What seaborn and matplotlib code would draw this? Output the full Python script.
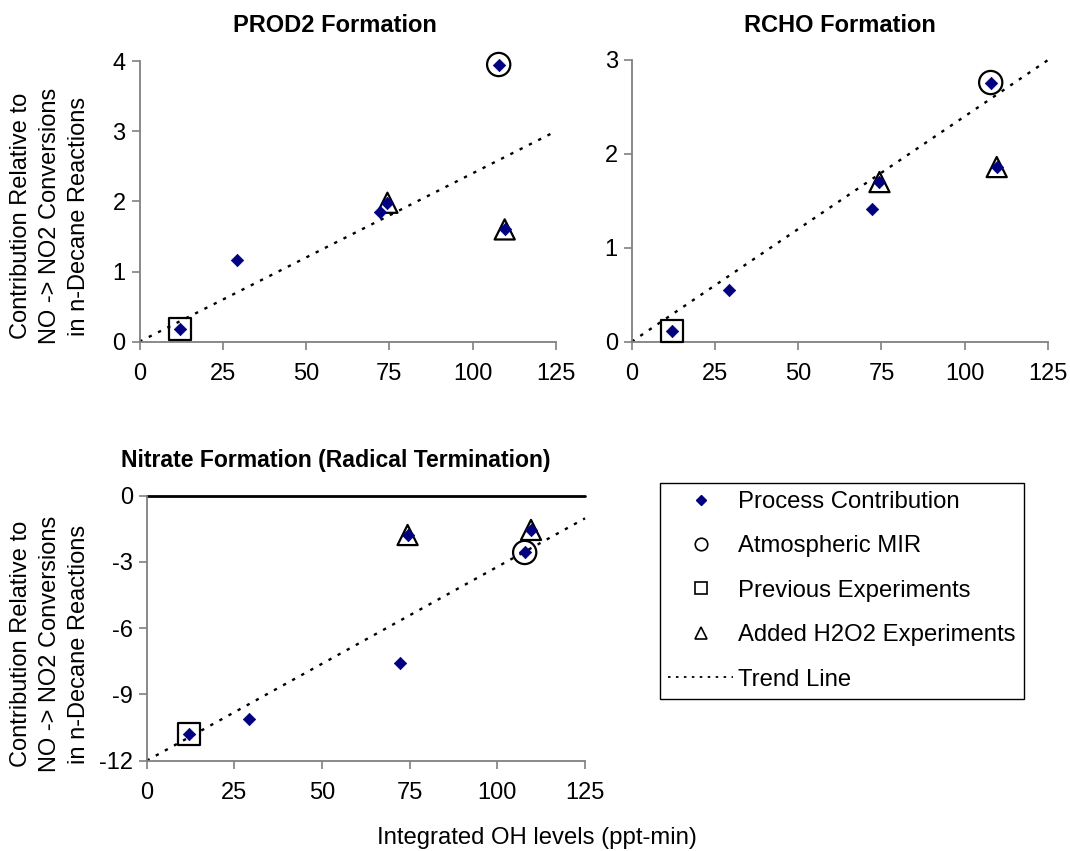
import numpy as np
import pandas as pd
import matplotlib
matplotlib.use("Agg")
import matplotlib.pyplot as plt
from matplotlib.lines import Line2D
import seaborn as sns

# ---------------- data ----------------
oh_levels = [12.1, 29.2, 72.2, 74.4, 107.8, 109.6]
experiment_type = ["Previous", "None", "None", "H2O2", "MIR", "H2O2"]
prod2_values = [0.18, 1.17, 1.85, 1.98, 3.95, 1.60]
rcho_values = [0.11, 0.55, 1.41, 1.70, 2.76, 1.86]
nitrate_values = [-10.79, -10.13, -7.56, -1.78, -2.57, -1.55]

panel_titles = ["PROD2 Formation", "RCHO Formation",
                "Nitrate Formation (Radical Termination)"]
trend_slopes = [0.024, 0.024, 0.0878]
trend_intercepts = [0.0, 0.0, -12.0]
x_ticks = [0, 25, 50, 75, 100, 125]
y_ticks = [[0, 1, 2, 3, 4], [0, 1, 2, 3], [-12, -9, -6, -3, 0]]
trend_x = [0, 125]

legend_labels = ["Process Contribution", "Atmospheric MIR", "Previous Experiments",
                 "Added H2O2 Experiments", "Trend Line"]
ylabel_text = "Contribution Relative to\nNO -> NO2 Conversions\nin n-Decane Reactions"
xlabel_text = "Integrated OH levels (ppt-min)"

# ---------------- style ----------------
sns.set_theme(style="ticks")
plt.rcParams["font.family"] = ["Liberation Sans", "DejaVu Sans"]
plt.rcParams["axes.unicode_minus"] = False
plt.rcParams["text.color"] = "black"

W, H = 1070, 851
fig = plt.figure(figsize=(W / 100, H / 100), dpi=100)

def fr(x0, y0, x1, y1):
    return [x0 / W, 1 - y1 / H, (x1 - x0) / W, (y1 - y0) / H]

ax_rects = [fr(139.5, 61, 556, 341.7), fr(631.7, 60, 1048, 341.7), fr(146.7, 495.7, 585, 760.7)]
title_pos = [(335, 25, 17), (840, 25, 17), (336, 460, 16.6)]
values = [prod2_values, rcho_values, nitrate_values]

NAVY = "#000080"
SPINE = "#808080"
DOTS = (0, (1.4, 3.0))

for i in range(3):
    ax = fig.add_axes(ax_rects[i])
    df = pd.DataFrame({"x": oh_levels, "y": values[i], "type": experiment_type})
    tdf = pd.DataFrame({"x": trend_x,
                        "y": [trend_slopes[i] * v + trend_intercepts[i] for v in trend_x]})
    sns.lineplot(data=tdf, x="x", y="y", ax=ax, color="black", lw=1.7,
                 linestyle=DOTS, clip_on=False)
    for typ, mk, s in [("MIR", "o", 280), ("Previous", "s", 250), ("H2O2", "^", 210)]:
        sub = df[df["type"] == typ]
        sns.scatterplot(data=sub, x="x", y="y", ax=ax, marker=mk, s=s,
                        facecolor="none", edgecolor="black", linewidth=1.6,
                        clip_on=False, zorder=3)
    sns.scatterplot(data=df, x="x", y="y", ax=ax, marker="D", s=40,
                    color=NAVY, edgecolor=NAVY, linewidth=0.5, clip_on=False, zorder=4)

    ax.set_xlim(0, 125)
    ax.set_ylim(min(y_ticks[i]), max(y_ticks[i]))
    ax.set_xticks(x_ticks)
    ax.set_yticks(y_ticks[i])
    ax.set_xlabel("")
    ax.set_ylabel("")
    for side in ["top", "right"]:
        ax.spines[side].set_visible(False)
    for side in ["left", "bottom"]:
        ax.spines[side].set_color(SPINE)
        ax.spines[side].set_linewidth(1.3)
    ax.tick_params(axis="both", which="major", direction="out", length=6, width=1.2,
                   color=SPINE, labelsize=17, labelcolor="black",
                   bottom=True, left=True)
    ax.tick_params(axis="x", pad=9)
    ax.tick_params(axis="y", pad=4)
    tx, ty, tfs = title_pos[i]
    fig.text(tx / W, 1 - ty / H, panel_titles[i], ha="center", va="center",
             fontsize=tfs, fontweight="bold", color="black")
    if i == 2:
        ax.axhline(0, color="black", lw=2, clip_on=False, zorder=2)

for yc in [216, 644]:
    fig.text(50 / W, 1 - yc / H, ylabel_text, rotation=90, ha="center", va="center",
             multialignment="center", fontsize=17, linespacing=1.4, color="black")
fig.text(537 / W, 1 - 838 / H, xlabel_text, ha="center", va="center", fontsize=17.2,
         color="black")

handles = [
    Line2D([], [], marker="D", color=NAVY, linestyle="none", markersize=5.5),
    Line2D([], [], marker="o", markerfacecolor="none", markeredgecolor="black",
           linestyle="none", markersize=9, markeredgewidth=1.2),
    Line2D([], [], marker="s", markerfacecolor="none", markeredgecolor="black",
           linestyle="none", markersize=8.5, markeredgewidth=1.2),
    Line2D([], [], marker="^", markerfacecolor="none", markeredgecolor="black",
           linestyle="none", markersize=9, markeredgewidth=1.2),
    Line2D([], [], color="black", lw=1.3, linestyle=DOTS),
]
leg = fig.legend(handles, legend_labels, loc="upper left",
                 bbox_to_anchor=(660 / W, 1 - 482.5 / H), borderaxespad=0,
                 fontsize=17.2, frameon=True, fancybox=False, framealpha=1,
                 edgecolor="black", handlelength=2.7, handletextpad=0.22,
                 borderpad=0.35, labelspacing=0.94)
leg.get_frame().set_linewidth(1.0)
for t in leg.get_texts():
    t.set_color("black")

fig.savefig("out.png", dpi=100)
